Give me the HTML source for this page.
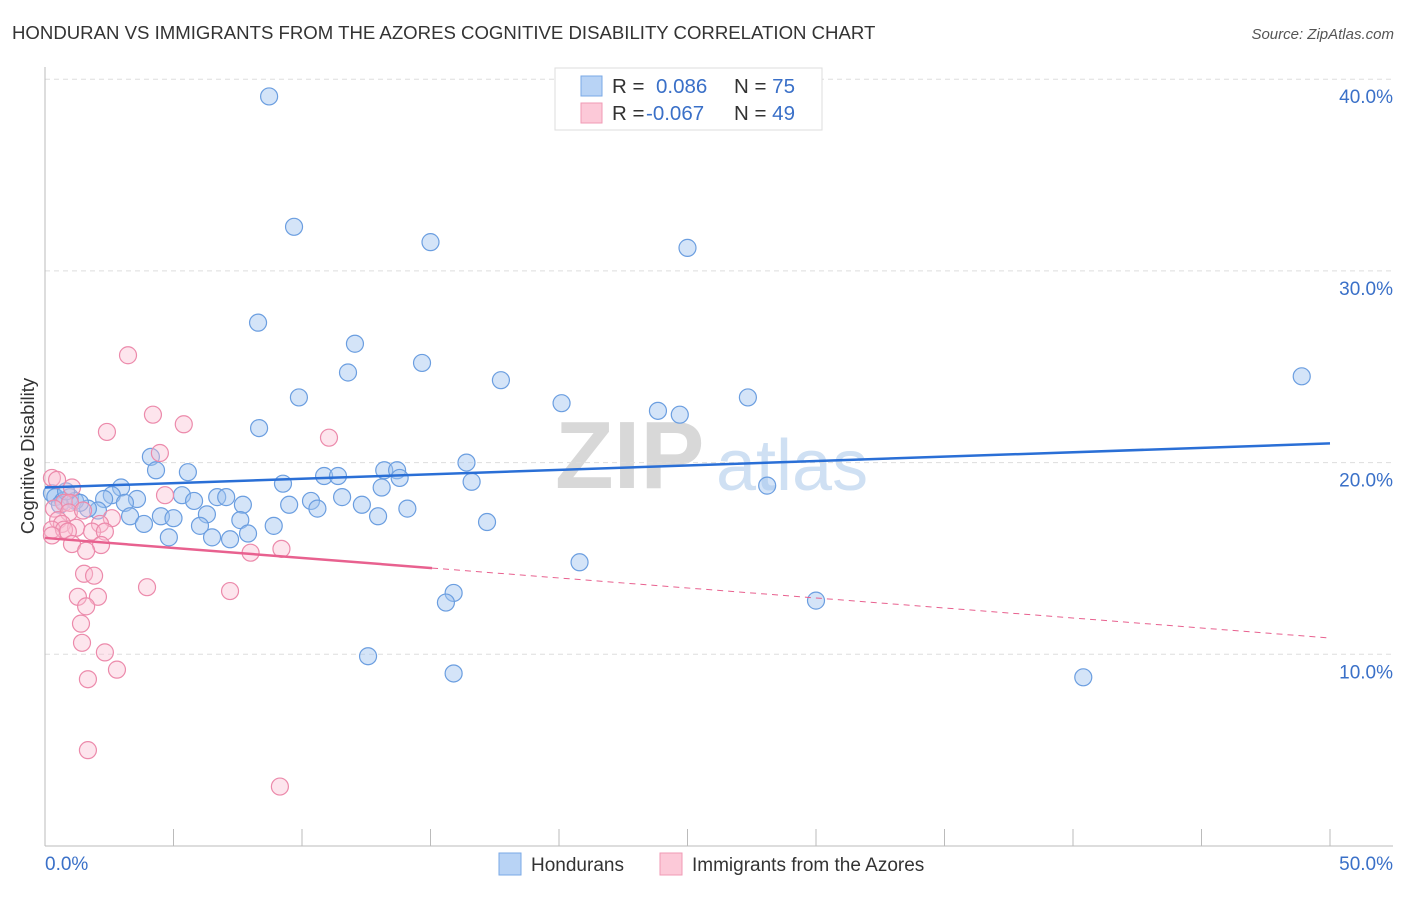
<!DOCTYPE html>
<html><head><meta charset="utf-8"><style>
body{margin:0;background:#fff;font-family:"Liberation Sans",sans-serif}
svg text{font-family:"Liberation Sans",sans-serif}
</style></head><body>
<svg id="c" width="1406" height="892">
<text x="12" y="39" font-size="18.6" fill="#333">HONDURAN VS IMMIGRANTS FROM THE AZORES COGNITIVE DISABILITY CORRELATION CHART</text>
<text x="1394" y="39" font-size="15" fill="#555" font-style="italic" text-anchor="end">Source: ZipAtlas.com</text>
<text transform="translate(34,456) rotate(-90)" font-size="18.5" fill="#333" text-anchor="middle">Cognitive Disability</text>
<g><text x="555" y="488" font-size="96" font-family="Liberation Serif" fill="#d8d8d8" font-weight="bold">ZIP</text><text x="716" y="490" font-size="72" fill="#cfe0f3">atlas</text></g>
<g id="grid"></g><g id="axes"></g><g id="pts"></g><g id="lines"></g>
<g>
<rect x="555" y="68" width="267" height="62" fill="#fff" stroke="#ddd"/>
<rect x="581" y="76" width="21" height="20" fill="#b8d3f5" stroke="#7aa8e6"/>
<rect x="581" y="103" width="21" height="20" fill="#fcc9d8" stroke="#f09ab5"/>
<text x="612" y="93" font-size="20.5" fill="#333">R = <tspan x="656" fill="#3a70c8">0.086</tspan><tspan x="734" fill="#333">N = </tspan><tspan fill="#3a70c8">75</tspan></text>
<text x="612" y="120" font-size="20.5" fill="#333">R = <tspan x="646" fill="#3a70c8">-0.067</tspan><tspan x="734" fill="#333">N = </tspan><tspan fill="#3a70c8">49</tspan></text>
</g>
<g>
<rect x="499" y="853" width="22" height="22" fill="#b8d3f5" stroke="#7aa8e6"/>
<text x="531" y="871" font-size="19" fill="#333">Hondurans</text>
<rect x="660" y="853" width="22" height="22" fill="#fcc9d8" stroke="#f09ab5"/>
<text x="692" y="871" font-size="19" fill="#333">Immigrants from the Azores</text>
</g>
</svg>
<script>
const yTicks=[10,20,30,40];
const yTickLabels=["10.0%","20.0%","30.0%","40.0%"];
const xLabels=["0.0%","50.0%"];
const blueX=[8.72,9.69,15.0,25.0,8.29,12.06,14.67,11.79,17.74,48.9,9.88,20.1,23.85,24.7,27.35,8.33,4.12,16.4,4.32,5.56,13.2,13.7,10.86,11.4,13.8,9.26,16.6,13.1,28.1,2.96,2.6,2.3,3.58,5.33,5.8,6.7,7.05,7.7,3.11,9.5,10.35,11.56,12.33,10.6,14.1,2.06,1.67,3.31,4.51,5.0,6.3,12.96,17.2,7.6,3.85,6.03,8.9,4.82,6.5,7.2,7.9,20.8,15.9,15.6,30.0,12.57,15.9,40.4,0.27,0.4,0.7,0.97,1.17,1.36,0.58,0.82];
const blueY=[39.1,32.3,31.5,31.2,27.3,26.2,25.2,24.7,24.3,24.5,23.4,23.1,22.7,22.5,23.4,21.8,20.3,20.0,19.6,19.5,19.6,19.6,19.3,19.3,19.2,18.9,19.0,18.7,18.8,18.7,18.3,18.1,18.1,18.3,18.0,18.2,18.2,17.8,17.9,17.8,18.0,18.2,17.8,17.6,17.6,17.5,17.6,17.2,17.2,17.1,17.3,17.2,16.9,17.0,16.8,16.7,16.7,16.1,16.1,16.0,16.3,14.8,13.2,12.7,12.8,9.9,9.0,8.8,18.4,18.2,18.0,18.2,18.0,17.9,17.8,18.5];
const pinkX=[3.23,4.2,5.4,2.41,11.05,4.47,0.27,0.47,1.05,4.67,0.74,0.97,0.35,0.93,1.48,2.6,0.51,0.66,2.14,1.21,0.27,0.74,1.83,2.33,0.27,0.89,2.18,1.05,1.6,8.0,9.2,1.52,1.91,3.97,7.2,1.28,2.06,1.6,1.4,1.44,2.33,2.8,1.67,1.67,9.14];
const pinkY=[25.6,22.5,22.0,21.6,21.3,20.5,19.2,19.1,18.7,18.3,17.9,17.9,17.6,17.4,17.5,17.1,17.0,16.8,16.8,16.6,16.5,16.5,16.4,16.4,16.2,16.4,15.7,15.75,15.4,15.3,15.5,14.2,14.1,13.5,13.3,13.0,13.0,12.5,11.6,10.6,10.1,9.2,8.7,5.0,3.1];
const blueTrend=[18.7,21.0];
const pinkTrend=[16.07,10.85];
const pinkSolidEnd=15.06;
const NS="http://www.w3.org/2000/svg";
const X=v=>45+v*25.7, Y=v=>846-v*19.17;
function mk(p,t,a){const e=document.createElementNS(NS,t);for(const k in a)e.setAttribute(k,a[k]);document.getElementById(p).appendChild(e);return e;}
yTicks.forEach((t,i)=>{
 const g=mk('grid','line',{x1:45,x2:1393,y1:Y(t),y2:Y(t),stroke:'#ddd','stroke-dasharray':'5,4'});
 
 
 const l=mk('grid','text',{x:1393,y:Y(t)+24,'text-anchor':'end','font-size':19,fill:'#3a70c8'});l.textContent=yTickLabels[i];
 
 
});
let ax=mk('axes','line',{x1:45,x2:45,y1:67,y2:846,stroke:'#bbb'});


ax=mk('axes','line',{x1:45,x2:1393,y1:846,y2:846,stroke:'#bbb'});


for(let i=1;i<=10;i++){const t=mk('axes','line',{x1:X(i*5),x2:X(i*5),y1:829,y2:846,stroke:'#bbb'});
 
 }
[[0,'start',45],[50,'end',1393]].forEach((d,i)=>{const t=mk('axes','text',{x:d[2],y:870,'text-anchor':d[1],'font-size':19,fill:'#3a70c8'});t.textContent=xLabels[i];
 
 });
blueX.forEach((x,i)=>{const c=mk('pts','circle',{cx:X(x),cy:Y(blueY[i]),r:8.5,fill:'rgba(160,196,240,0.45)',stroke:'#6b9ee0','stroke-width':1.2});
 
 });
pinkX.forEach((x,i)=>{const c=mk('pts','circle',{cx:X(x),cy:Y(pinkY[i]),r:8.5,fill:'rgba(250,190,210,0.4)',stroke:'#ec8aab','stroke-width':1.2});
 
 });
let ln=mk('lines','line',{x1:X(0),y1:Y(blueTrend[0]),x2:X(50),y2:Y(blueTrend[1]),stroke:'#2a6fd6','stroke-width':2.5});


const py=x=>pinkTrend[0]+(pinkTrend[1]-pinkTrend[0])*x/50;
ln=mk('lines','line',{x1:X(0),y1:Y(py(0)),x2:X(pinkSolidEnd),y2:Y(py(pinkSolidEnd)),stroke:'#e8618f','stroke-width':2.5});


ln=mk('lines','line',{x1:X(pinkSolidEnd),y1:Y(py(pinkSolidEnd)),x2:X(50),y2:Y(py(50)),stroke:'#e8618f','stroke-width':1,'stroke-dasharray':'6,5'});


</script>
</body></html>
